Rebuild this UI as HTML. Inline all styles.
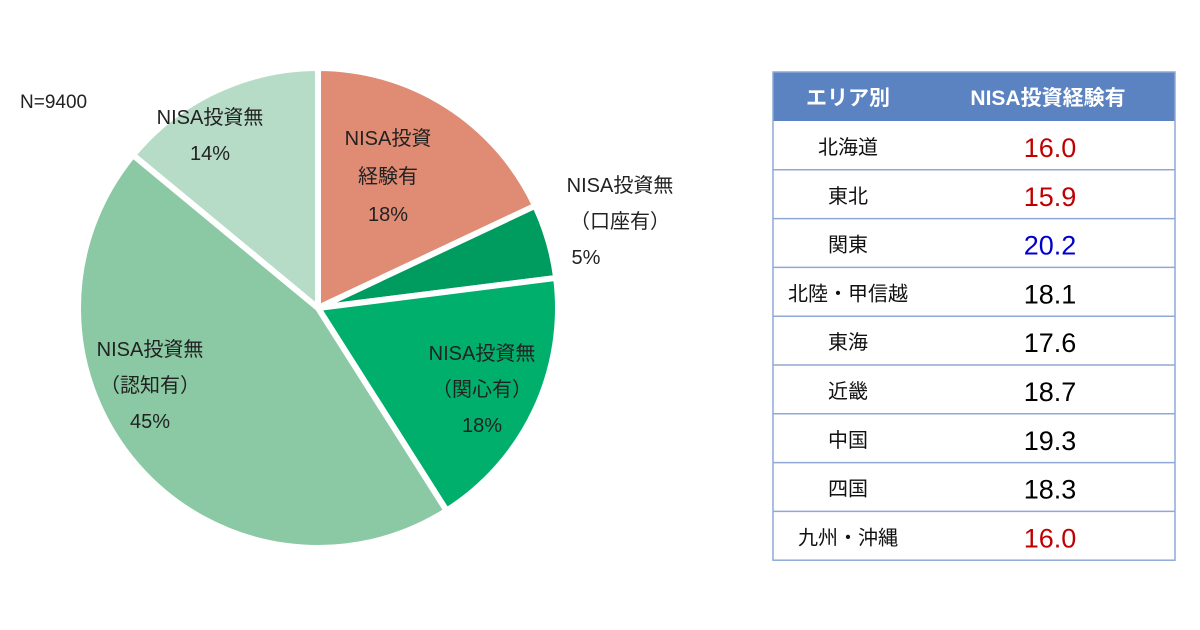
<!DOCTYPE html>
<html><head><meta charset="utf-8">
<style>
body{margin:0;width:1200px;height:630px;background:#fff;font-family:"Liberation Sans","Noto Sans CJK JP",sans-serif;overflow:hidden}
svg{position:absolute;left:0;top:0}
</style></head><body>
<svg width="1200" height="630">
<text x="20" y="108" font-size="19" fill="#222">N=9400</text>
<g id="pie"></g>
<g id="tbl"></g>
</svg>
<script>
const sliceLabels=[["NISA投資","経験有","18%"],["NISA投資無","（口座有）","5%"],["NISA投資無","（関心有）","18%"],["NISA投資無","（認知有）","45%"],["NISA投資無","14%"]];
const sliceValues=[18,5,18,45,14];
const sliceColors=["#e08b73","#009c5f","#00af6c","#8ac9a3","#b6dcc7"];
const areas=["北海道","東北","関東","北陸・甲信越","東海","近畿","中国","四国","九州・沖縄"];
const areaValues=["16.0","15.9","20.2","18.1","17.6","18.7","19.3","18.3","16.0"];
const areaColors=["#c00000","#c00000","#0000cc","#000","#000","#000","#000","#000","#c00000"];
const NS="http://www.w3.org/2000/svg";
function mk(t,a,p){const e=document.createElementNS(NS,t);for(const k in a)e.setAttribute(k,a[k]);p.appendChild(e);return e;}
const cx=318,cy=308,R=240,pie=document.getElementById('pie');
const total=sliceValues.reduce((a,b)=>a+b,0);
let acc=0;
const labelPos=[[388,145],[620,192],[482,360],[150,356],[210,124]];
sliceValues.forEach((v,i)=>{
 const a0=acc/total*2*Math.PI; acc+=v; const a1=acc/total*2*Math.PI;
 const x0=cx+R*Math.sin(a0),y0=cy-R*Math.cos(a0),x1=cx+R*Math.sin(a1),y1=cy-R*Math.cos(a1);
 const p=mk('path',{d:`M${cx},${cy}L${x0},${y0}A${R},${R} 0 ${a1-a0>Math.PI?1:0} 1 ${x1},${y1}Z`,fill:sliceColors[i],stroke:'#fff','stroke-width':6,'stroke-linejoin':'miter'},pie);
 
 
 const [lx,ly]=labelPos[i];
 const lines=sliceLabels[i];
 const step=i==0?38:36;
 lines.forEach((s,j)=>{
  const dx=(i==1&&j==2)?-34:0;
  const t=mk('text',{x:lx+dx,y:ly+j*step,'font-size':20,fill:'#222','text-anchor':'middle'},pie);
  t.textContent=s;
  
  
 });
});
const tb=document.getElementById('tbl');
const tL=773,tR=1175,tTop=72,hh=49,rh=48.8;
mk('rect',{x:tL,y:tTop,width:tR-tL,height:hh,fill:'#5b82c1'},tb);
[["エリア別",848],["NISA投資経験有",1048]].forEach(([s,x])=>{const t=mk('text',{x:x,y:tTop+33,'font-size':21,'font-weight':'bold',fill:'#fff','text-anchor':'middle'},tb);t.textContent=s;});
const tBottom=tTop+hh+rh*areas.length;
mk('rect',{x:tL,y:tTop,width:tR-tL,height:tBottom-tTop,fill:'none',stroke:'#8fa8d6','stroke-width':1.5},tb);
areas.forEach((a,i)=>{
 const y=tTop+hh+rh*i;
 if(i>0)mk('line',{x1:tL,x2:tR,y1:y,y2:y,stroke:'#8fa8d6','stroke-width':1.5},tb);
 const t=mk('text',{x:848,y:y+33,'font-size':20,fill:'#111','text-anchor':'middle'},tb);t.textContent=a;
 
 
 const v=mk('text',{x:1050,y:y+36,'font-size':27,fill:areaColors[i],'text-anchor':'middle'},tb);v.textContent=areaValues[i];
 
 
});
</script>
</body></html>
